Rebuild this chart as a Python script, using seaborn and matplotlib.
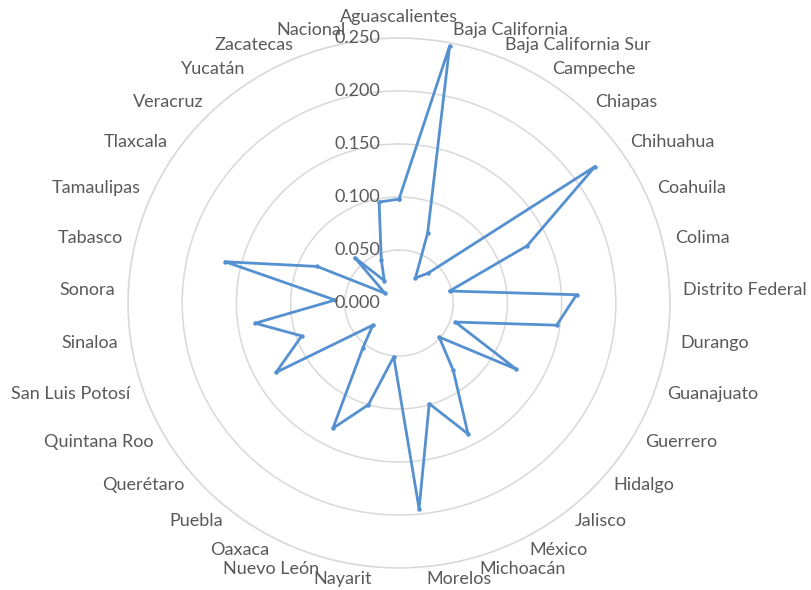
import numpy as np
import pandas as pd
import matplotlib
matplotlib.use("Agg")
import matplotlib.pyplot as plt
import matplotlib.transforms as mtransforms
import seaborn as sns

categories = ["Aguascalientes", "Baja California", "Baja California Sur", "Campeche",
              "Chiapas", "Chihuahua", "Coahuila", "Colima", "Distrito Federal",
              "Durango", "Guanajuato", "Guerrero", "Hidalgo", "Jalisco", "México",
              "Michoacán", "Morelos", "Nayarit", "Nuevo León", "Oaxaca", "Puebla",
              "Querétaro", "Quintana Roo", "San Luis Potosí", "Sinaloa", "Sonora",
              "Tabasco", "Tamaulipas", "Tlaxcala", "Veracruz", "Yucatán",
              "Zacatecas", "Nacional"]
values = [0.098, 0.247, 0.071, 0.028, 0.039, 0.222, 0.130, 0.048, 0.164,
          0.147, 0.055, 0.125, 0.049, 0.081, 0.139, 0.099, 0.195, 0.051,
          0.100, 0.133, 0.054, 0.032, 0.131, 0.095, 0.134, 0.059, 0.165,
          0.083, 0.016, 0.059, 0.025, 0.044, 0.097]
radial_ticks = [0.000, 0.050, 0.100, 0.150, 0.200, 0.250]
radial_tick_labels = ["0.000", "0.050", "0.100", "0.150", "0.200", "0.250"]

sns.set_style("white")
plt.rcParams["font.family"] = ["Lato", "DejaVu Sans"]

n = len(categories)
angles = np.arange(n) * 2 * np.pi / n
df = pd.DataFrame({"theta": np.append(angles, 2 * np.pi),
                   "value": values + [values[0]]})

fig = plt.figure(figsize=(8.12, 5.90), dpi=100)
ax = fig.add_axes([128 / 812, 22 / 590, 542 / 812, 530 / 590], projection="polar")
ax.set_theta_zero_location("N")
ax.set_theta_direction(-1)
ax.set_aspect("auto")

line_color = "#5590D0"
grid_color = "#D9D9D9"
text_color = "#595959"

sns.lineplot(data=df, x="theta", y="value", sort=False, ax=ax, color=line_color,
             linewidth=2.0, marker="o", markersize=3.2, markeredgewidth=0,
             estimator=None)

ax.set_ylim(0, 0.25)
ax.set_yticks(radial_ticks)
ax.set_yticklabels([])
ax.set_xticks(angles)
ax.set_xticklabels([])
ax.xaxis.grid(False)
ax.yaxis.grid(True, color=grid_color, linewidth=1.1)
ax.spines["polar"].set_color(grid_color)
ax.spines["polar"].set_linewidth(1.1)
ax.set_xlabel("")
ax.set_ylabel("")
ax.tick_params(length=0)

# radial tick labels, left of the vertical axis
off = mtransforms.offset_copy(ax.transData, fig=fig, x=-19, y=0, units="dots")
for v, lab in zip(radial_ticks, radial_tick_labels):
    ax.text(0, v, lab, transform=off, ha="right", va="center",
            fontsize=13, color=text_color, clip_on=False)

# category labels
for ang, lab in zip(angles, categories):
    s = np.sin(ang)
    if s > 0.05:
        ha = "left"
    elif s < -0.05:
        ha = "right"
    else:
        ha = "center"
    va = "bottom" if abs(ang) < 1e-6 else "center"
    ax.text(ang, 0.262, lab, ha=ha, va=va, fontsize=13, color=text_color,
            clip_on=False)

fig.savefig("out.png", dpi=100)
